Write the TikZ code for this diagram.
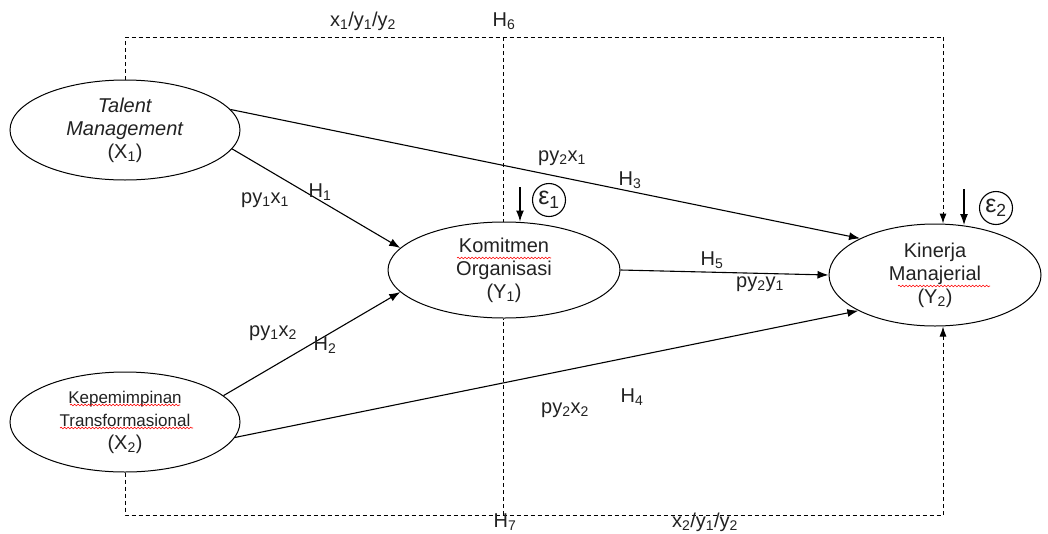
\documentclass[tikz,border=0pt]{standalone}
\usepackage{fontspec}
\setmainfont{Liberation Sans}
\usetikzlibrary{shapes.geometric,arrows.meta,decorations.pathmorphing}
\definecolor{ink}{HTML}{222222}
\begin{document}
\begin{tikzpicture}[x=1pt,y=-1pt,
  lat/.style={ellipse, draw, line width=1pt, inner sep=0pt, align=center, text=ink,
              font=\fontsize{20}{23}\selectfont},
  link/.style={line width=1.1pt, -{Latex[length=11pt,width=8pt]}},
  dline/.style={line width=1pt, dash pattern=on 4pt off 3pt},
  lbl/.style={font=\fontsize{20}{23}\selectfont, inner sep=0pt, text=ink},
  err/.style={circle, draw, line width=1.1pt, inner sep=0pt, minimum size=33pt,
              font=\fontsize{25}{26}\selectfont, text=ink},
  squig/.style={red, line width=0.6pt, decorate,
                decoration={snake, amplitude=0.8pt, segment length=3.5pt}}
]
\useasboundingbox (0,0) rectangle (1048,533);

% latent variables
\node[lat, minimum width=230pt, minimum height=100pt] (X1) at (125,130)
  {\textit{Talent}\\\textit{Management}\\(X\textsubscript{1})};
\node[lat, minimum width=230pt, minimum height=100pt] (X2) at (125,422)
  {{\fontsize{17}{22}\selectfont Kepemimpinan}\\{\fontsize{17}{22}\selectfont Transformasional}\\(X\textsubscript{2})};
\node[lat, minimum width=232pt, minimum height=96pt] (Y1) at (504,270)
  {Komitmen\\Organisasi\\(Y\textsubscript{1})};
\node[lat, minimum width=212pt, minimum height=102pt] (Y2) at (935,275)
  {Kinerja\\Manajerial\\(Y\textsubscript{2})};

% spell-check underlines
\draw[squig] (457,258) -- (551,258);
\draw[squig] (898,286) -- (990,286);
\draw[squig] (70,405) -- (180,405);
\draw[squig] (60,428) -- (193,428);

% direct paths
\draw[link] (X1.-10.5) -- (Y1.168);
\draw[link] (X1.11.6) -- (Y2.154);
\draw[link] (X2.15.6) -- (Y1.192);
\draw[link] (X2.-8) -- (Y2.205);
\draw[link] (Y1.east) -- (Y2.west);

% indirect (dashed) paths
\coordinate (tl) at (125,37);
\coordinate (h6) at (503,37);
\coordinate (tr) at (943,37);
\draw[dline] (X1.north) -- (tl) -- (tr);
\draw[dline] (h6) -- (h6 |- Y1.north);
\draw[dline, -{Latex[length=10pt,width=7pt]}] (tr) -- (tr |- Y2.north);
\coordinate (bl) at (125,515);
\coordinate (h7) at (503,515);
\coordinate (br) at (943,515);
\draw[dline] (X2.south) -- (bl) -- (br);
\draw[dline] (h7) -- (h7 |- Y1.south);
\draw[dline, -{Latex[length=10pt,width=7pt]}] (br) -- (br |- Y2.south);

% error terms
\coordinate (e1s) at (520,187);
\draw[link] (e1s) -- (e1s |- Y1.north);
\node[err] (E1) at (549,200) {ε\textsubscript{1}};
\coordinate (e2s) at (964,189);
\draw[link] (e2s) -- (964,225);
\node[err] (E2) at (996,208) {ε\textsubscript{2}};

% labels
\node[lbl] (l1) at (265,200) {py\textsubscript{1}x\textsubscript{1}};
\node[lbl] (h1) at (320,192) {H\textsubscript{1}};
\node[lbl] (l3) at (562,158) {py\textsubscript{2}x\textsubscript{1}};
\node[lbl] (h3) at (630,180) {H\textsubscript{3}};
\node[lbl] (l2) at (273,333) {py\textsubscript{1}x\textsubscript{2}};
\node[lbl] (h2) at (325,345) {H\textsubscript{2}};
\node[lbl] (l4) at (565,410) {py\textsubscript{2}x\textsubscript{2}};
\node[lbl] (h4) at (632,397) {H\textsubscript{4}};
\node[lbl] (h5) at (712,260) {H\textsubscript{5}};
\node[lbl] (l5) at (760,284) {py\textsubscript{2}y\textsubscript{1}};
\node[lbl] (t6) at (363,21) {x\textsubscript{1}/y\textsubscript{1}/y\textsubscript{2}};
\node[lbl] (H6) at (504,21) {H\textsubscript{6}};
\node[lbl] (H7) at (505,522) {H\textsubscript{7}};
\node[lbl] (t7) at (705,522) {x\textsubscript{2}/y\textsubscript{1}/y\textsubscript{2}};
\end{tikzpicture}
\end{document}
